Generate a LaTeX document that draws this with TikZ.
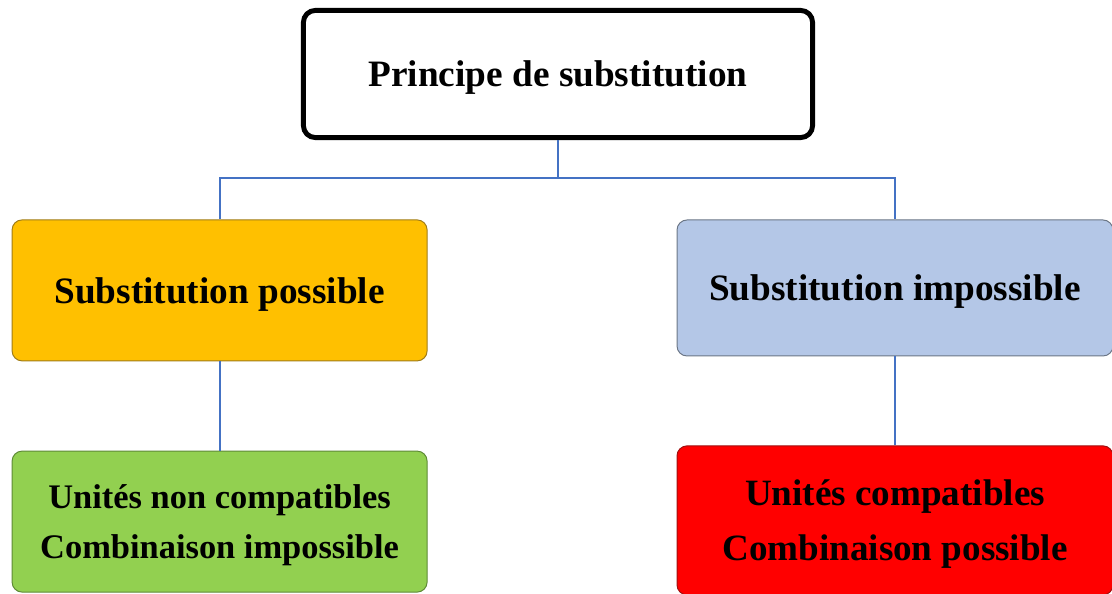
\documentclass[tikz,border=0pt]{standalone}
\usepackage{fontspec}
\setmainfont{Liberation Serif}
\usepackage{xcolor}
\definecolor{linkblue}{HTML}{4472C4}
\definecolor{orangeF}{HTML}{FFC000}
\definecolor{orangeD}{HTML}{A07C18}
\definecolor{blueF}{HTML}{B4C7E7}
\definecolor{blueD}{HTML}{6B7686}
\definecolor{greenF}{HTML}{92D050}
\definecolor{greenD}{HTML}{5E8A36}
\definecolor{redF}{HTML}{FF0000}
\definecolor{redD}{HTML}{A01010}

\begin{document}
\begin{tikzpicture}[
	box/.style={draw,line width=.7pt,rounded corners=.25cm,align=center,inner sep=0pt,text depth=0pt,
		font=\bfseries\fontsize{26.5}{36}\selectfont},
	link/.style={draw=linkblue,line width=1.5pt}]
%                 [top]
%                   |
%        +----------J----------+
%        |                     |
%   [possible]            [impossible]
%        |                     |
%   [nocompat]             [compat]

	\useasboundingbox (0,0) rectangle (27.8,14.85);

	\node[box,line width=3.5pt,rounded corners=.3cm,minimum width=12.73cm,minimum height=3.18cm]
		(top) at (13.95,13.0) {Principe de substitution};

	\node[box,fill=orangeF,draw=orangeD,minimum width=10.375cm,minimum height=3.525cm]
		(possible) at (5.49,7.59) {Substitution possible};
	\node[box,fill=blueF,draw=blueD,minimum width=10.9cm,minimum height=3.4cm]
		(impossible) at (22.375,7.65) {Substitution impossible};

	\node[box,fill=greenF,draw=greenD,minimum width=10.375cm,minimum height=3.525cm,
		font=\bfseries\fontsize{24.5}{36}\selectfont]
		(nocompat) at (5.49,1.81) {Unités non compatibles\\Combinaison impossible};
	\node[box,fill=redF,draw=redD,minimum width=10.9cm,minimum height=3.725cm,
		font=\bfseries\fontsize{26.4}{39}\selectfont]
		(compat) at (22.375,1.84) {Unités compatibles\\Combinaison possible};

	\coordinate (J) at (13.95,10.4);
	\draw[link] (top) -- (J);
	\draw[link] (J) -| (possible);
	\draw[link] (J) -| (impossible);
	\draw[link] (possible) -- (nocompat);
	\draw[link] (impossible) -- (compat);

\end{tikzpicture}
\end{document}
